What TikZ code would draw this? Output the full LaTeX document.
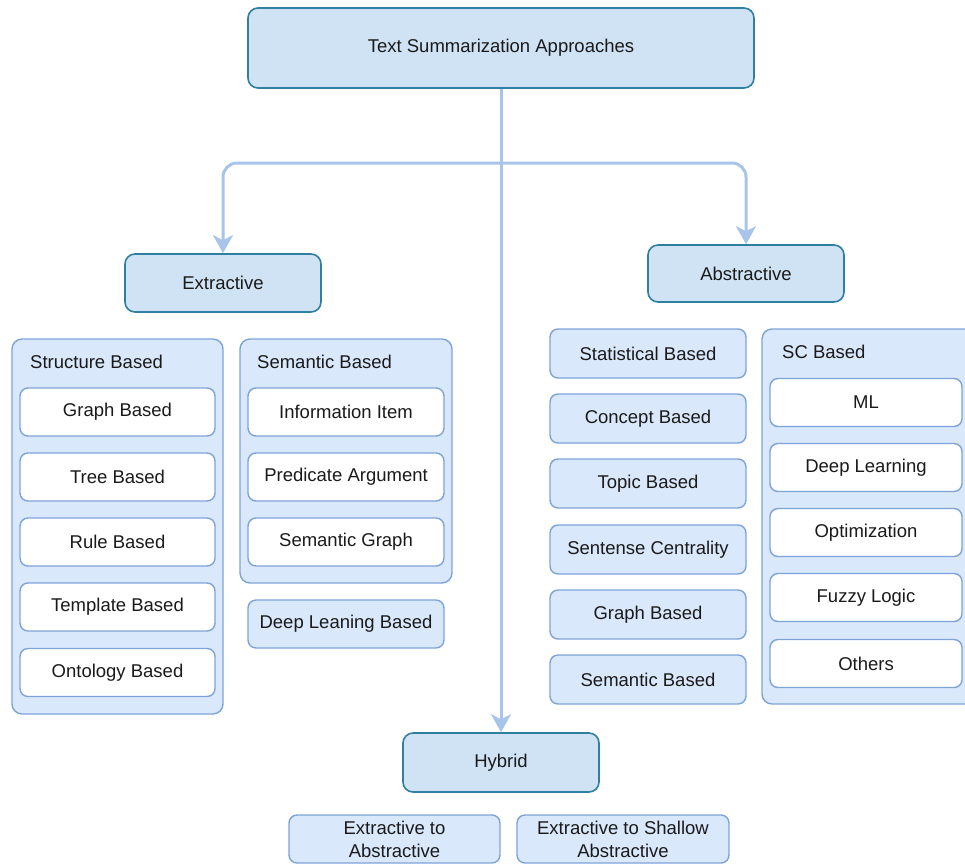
\documentclass[tikz,border=0pt]{standalone}
\usepackage{fontspec}
\setmainfont{Liberation Sans}
\usetikzlibrary{arrows.meta}

\definecolor{mainfill}{HTML}{CFE3F5}
\definecolor{mainline}{HTML}{2F80A0}
\definecolor{grpfill}{HTML}{DAE8FC}
\definecolor{grpline}{HTML}{7EA3D8}
\definecolor{arrowcol}{HTML}{A9C4EB}
\definecolor{txt}{HTML}{1A1A1A}

\tikzset{
  base/.style={rectangle, inner sep=0pt, text=txt,
    font=\fontsize{18.5}{23}\selectfont, align=center},
  mainbox/.style={base, draw=mainline, fill=mainfill, line width=1.6pt,
    rounded corners=10pt, minimum width=196pt, minimum height=58pt},
  groupbox/.style={rectangle, draw=grpline, fill=grpfill, line width=1.4pt,
    rounded corners=10pt, inner sep=0pt},
  itembox/.style={base, draw=grpline, fill=white, line width=1.4pt,
    rounded corners=8pt, minimum width=195pt, minimum height=48pt},
  tintbox/.style={base, draw=grpline, fill=grpfill, line width=1.4pt,
    rounded corners=8pt, minimum width=196pt, minimum height=49pt},
  grouptitle/.style={base, anchor=west},
  conn/.style={draw=arrowcol, line width=3pt, rounded corners=14pt,
    -{Stealth[length=18pt,width=20pt,inset=5pt,sharp]}},
}

\begin{document}
\begin{tikzpicture}[x=1pt,y=-1pt]
\useasboundingbox (0,0) rectangle (965,865);
\clip (0,0) rectangle (965,865);

% top level
\node[mainbox, minimum width=506pt, minimum height=80pt] (root) at (501,48) {Text Summarization Approaches};
\node[mainbox] (extr) at (223,283) {Extractive};
\node[mainbox, minimum height=57pt] (abst) at (746,273.5) {Abstractive};
\node[mainbox, minimum height=59pt] (hyb) at (501,762.5) {Hybrid};

% connectors
\coordinate (fork) at (501,163);
\draw[conn] (root.south) -- (hyb.north);
\draw[conn] (fork) -| (extr.north);
\draw[conn] (fork) -| (abst.north);

% extractive: structure based
\node[groupbox, minimum width=211pt, minimum height=375pt] (structgrp) at (117.5,526.5) {};
\node[grouptitle] (structtitle) at (30,362) {Structure Based};
\node[itembox] (sgraph) at (117.5,412) {Graph Based};
\node[itembox] (stree) at (117.5,477) {Tree Based};
\node[itembox] (srule) at (117.5,542) {Rule Based};
\node[itembox] (stempl) at (117.5,607) {Template Based};
\node[itembox] (sonto) at (117.5,672.5) {Ontology Based};

% extractive: semantic based
\node[groupbox, minimum width=212pt, minimum height=244pt] (semgrp) at (346,461) {};
\node[grouptitle] (semtitle) at (257,362) {Semantic Based};
\node[itembox, minimum width=196pt] (minfo) at (346,412) {Information Item};
\node[itembox, minimum width=196pt] (mpred) at (346,477) {Predicate Argument};
\node[itembox, minimum width=196pt] (mgraph) at (346,542) {Semantic Graph};
\node[tintbox, minimum height=48pt] (deepl) at (346,624) {Deep Leaning Based};

% abstractive: single methods
\node[tintbox] (astat) at (648,353.5) {Statistical Based};
\node[tintbox] (aconc) at (648,418.5) {Concept Based};
\node[tintbox] (atopic) at (648,483.5) {Topic Based};
\node[tintbox] (asent) at (648,549.5) {Sentense Centrality};
\node[tintbox] (agraph) at (648,614.5) {Graph Based};
\node[tintbox] (asem) at (648,679.5) {Semantic Based};

% abstractive: SC based
\node[groupbox, minimum width=214pt, minimum height=375pt] (scgrp) at (869,516.5) {};
\node[grouptitle] (sctitle) at (782,352) {SC Based};
\node[itembox, minimum width=192pt] (cml) at (866,402.5) {ML};
\node[itembox, minimum width=192pt] (cdeep) at (866,467.5) {Deep Learning};
\node[itembox, minimum width=192pt] (copt) at (866,532.5) {Optimization};
\node[itembox, minimum width=192pt] (cfuzzy) at (866,597.5) {Fuzzy Logic};
\node[itembox, minimum width=192pt] (cother) at (866,663.5) {Others};

% hybrid
\node[tintbox, minimum width=211pt, minimum height=48pt] (hext) at (394.5,839) {Extractive to\\Abstractive};
\node[tintbox, minimum width=212pt, minimum height=48pt] (hshallow) at (623,839) {Extractive to Shallow\\Abstractive};
\end{tikzpicture}
\end{document}
